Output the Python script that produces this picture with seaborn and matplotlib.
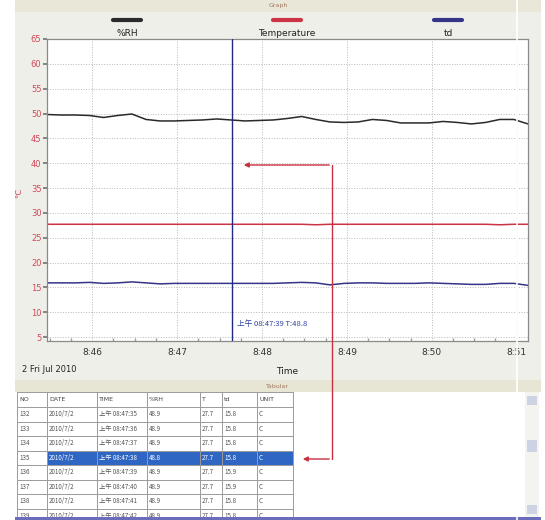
import numpy as np
import pandas as pd
import matplotlib
matplotlib.use("Agg")
import matplotlib.pyplot as plt
import seaborn as sns
from matplotlib.patches import Rectangle, FancyArrowPatch
from matplotlib.lines import Line2D

# ---------------- data ----------------
series_names = ["%RH", "Temperature", "td"]
series_colors = ["#2a2a2a", "#cc3345", "#343488"]

times = pd.date_range("2010-07-02 08:45:28", "2010-07-02 08:51:08", freq="10s")

rh_values = [49.8, 49.7, 49.7, 49.6, 49.2, 49.6, 49.9, 48.8, 48.5, 48.5,
             48.6, 48.7, 48.9, 48.7, 48.5, 48.6, 48.7, 49.0, 49.4, 48.8,
             48.3, 48.2, 48.3, 48.8, 48.6, 48.1, 48.1, 48.1, 48.4, 48.2,
             47.9, 48.2, 48.8, 48.8, 47.9]
temp_values = [27.7, 27.7, 27.7, 27.7, 27.7, 27.7, 27.7, 27.7, 27.7, 27.7,
               27.7, 27.7, 27.7, 27.7, 27.7, 27.7, 27.7, 27.7, 27.7, 27.6,
               27.7, 27.7, 27.7, 27.7, 27.7, 27.7, 27.7, 27.7, 27.7, 27.7,
               27.7, 27.7, 27.6, 27.7, 27.7]
td_values = [15.9, 15.9, 15.9, 16.0, 15.8, 15.9, 16.1, 15.9, 15.7, 15.8,
             15.8, 15.8, 15.8, 15.8, 15.8, 15.8, 15.8, 15.9, 16.0, 15.9,
             15.5, 15.8, 15.9, 15.9, 15.8, 15.8, 15.8, 15.9, 15.8, 15.7,
             15.6, 15.6, 15.8, 15.8, 15.4]

cursor_time = "08:47:39"
cursor_label = "上午 08:47:39 T:48.8"
date_label = "2 Fri Jul 2010"

y_ticks = [5, 10, 15, 20, 25, 30, 35, 40, 45, 50, 55, 60, 65]
x_tick_labels = ["8:46", "8:47", "8:48", "8:49", "8:50", "8:51"]

table_columns = ["NO", "DATE", "TIME", "%RH", "T", "td", "UNIT"]
table_no = ["132", "133", "134", "135", "136", "137", "138", "139"]
table_date = ["2010/7/2"] * 8
table_time = ["上午 08:47:35", "上午 08:47:36", "上午 08:47:37", "上午 08:47:38",
              "上午 08:47:39", "上午 08:47:40", "上午 08:47:41", "上午 08:47:42"]
table_rh = ["48.9", "48.9", "48.9", "48.8", "48.9", "48.9", "48.9", "48.9"]
table_t = ["27.7"] * 8
table_td = ["15.8", "15.8", "15.8", "15.8", "15.9", "15.9", "15.8", "15.8"]
table_unit = ["C"] * 8
selected_row = 3

# ---------------- helpers ----------------
W, H = 545, 520
def fx(x): return x / W
def fy(y): return 1 - y / H

def to_min(t):
    t = pd.Timestamp(t)
    return (t.hour - 8) * 60 + t.minute + t.second / 60.0

sns.set_theme(style="white")
plt.rcParams["font.family"] = ["DejaVu Sans", "Noto Sans CJK SC"]
cjk = ["Noto Sans CJK SC", "DejaVu Sans"]

fig = plt.figure(figsize=(W / 100, H / 100), dpi=100)
fig.patch.set_facecolor("white")

def frect(x0, y0, x1, y1, color, z=0, **kw):
    fig.add_artist(Rectangle((fx(x0), fy(y1)), fx(x1) - fx(x0), fy(y0) - fy(y1),
                             transform=fig.transFigure, facecolor=color,
                             edgecolor=kw.get("ec", "none"), lw=kw.get("lw", 0), zorder=z))

# panel backgrounds
frect(15, 0, 541, 392, "#efefe9")
frect(15, 0, 541, 12, "#e9e8d8")
frect(15, 380, 541, 392, "#e7e6d4")
fig.text(fx(278), fy(6), "Graph", fontsize=4.5, color="#a07860", ha="center", va="center")
fig.text(fx(277), fy(386), "Tabular", fontsize=4.5, color="#a07860", ha="center", va="center")

# ---------------- chart ----------------
x_min = [to_min(t) for t in times]
df = pd.DataFrame({
    "minute": x_min * 3,
    "value": rh_values + temp_values + td_values,
    "series": [series_names[0]] * len(times) + [series_names[1]] * len(times) + [series_names[2]] * len(times),
})

ax = fig.add_axes([fx(47), fy(341), fx(528) - fx(47), fy(39) - fy(341)])
ax.set_facecolor("white")
sns.lineplot(data=df, x="minute", y="value", hue="series", hue_order=series_names,
             palette=series_colors, legend=False, ax=ax, lw=1.1)

ax.set_xlim(to_min("08:45:28"), to_min("08:51:08"))
ax.set_ylim(4.2, 65)
ax.set_yticks(y_ticks)
ax.set_yticklabels([str(v) for v in y_ticks], color="#d04858", fontsize=6)
major_x = [46, 47, 48, 49, 50, 51]
ax.set_xticks(major_x)
ax.set_xticklabels(x_tick_labels, fontsize=6.5, color="#333333")
ax.set_xticks(np.arange(45.5, 51.1, 0.25), minor=True)
ax.tick_params(axis="x", which="major", direction="in", length=4, color="#777777", pad=5)
ax.tick_params(axis="x", which="minor", direction="in", length=2, color="#999999", bottom=True)
ax.tick_params(axis="y", which="major", direction="out", length=3, color="#777777", pad=1, left=True)
ax.grid(True, which="major", linestyle=":", color="#b8b8b8", lw=0.7)
ax.set_xlabel("")
ax.set_ylabel("")
for s in ax.spines.values():
    s.set_color("#8a8a8a")
    s.set_linewidth(0.9)

cx = to_min(cursor_time)
ax.axvline(cx, color="#1e2a85", lw=1.0, zorder=5)
ax.text(cx + 0.05, 7.7, cursor_label, color="#3040a8", fontsize=5.5, family=cjk, va="center")

fig.text(fx(22), fy(370), date_label, fontsize=6, color="#222222", va="center")
fig.text(fx(287), fy(371), "Time", fontsize=6.5, color="#222222", ha="center", va="center")
fig.text(fx(19), fy(193), "℃", fontsize=6, color="#d04858", rotation=90, ha="center", va="center")

# legend (top)
for name, col, xc in zip(series_names, series_colors, [127, 287, 448]):
    fig.add_artist(Line2D([fx(xc - 14), fx(xc + 14)], [fy(20), fy(20)], transform=fig.transFigure,
                          color=col, lw=3))
    fig.text(fx(xc), fy(33), name, fontsize=6.5, color="#222222", ha="center", va="center")

# ---------------- table ----------------
at = fig.add_axes([fx(15), fy(520), fx(525) - fx(15), fy(392) - fy(520)])
at.set_xlim(15, 525)
at.set_ylim(520, 392)
at.axis("off")
at.add_patch(Rectangle((15, 392), 510, 128, facecolor="white", edgecolor="none"))

col_edges = [17, 47, 97, 147, 200, 222, 257, 293]
row_h = 14.5
header_top, header_bot = 392, 407
rows = list(zip(table_no, table_date, table_time, table_rh, table_t, table_td, table_unit))

at.add_patch(Rectangle((col_edges[1], header_bot + selected_row * row_h),
                       col_edges[-1] - col_edges[1], row_h, facecolor="#2f66c3", edgecolor="none", zorder=1))

line_kw = dict(color="#9a9a9a", lw=0.7, zorder=2)
at.plot([col_edges[0], col_edges[-1]], [header_top, header_top], **line_kw)
at.plot([col_edges[0], col_edges[-1]], [header_bot, header_bot], **line_kw)
for i in range(len(rows)):
    yb = header_bot + (i + 1) * row_h
    if yb < 518:
        at.plot([col_edges[0], col_edges[-1]], [yb, yb], **line_kw)
for xe in col_edges:
    at.plot([xe, xe], [header_top, 518], **line_kw)

for j, name in enumerate(table_columns):
    at.text(col_edges[j] + 2, (header_top + header_bot) / 2, name, fontsize=4.5,
            color="#444444", va="center", zorder=3)
for i, row in enumerate(rows):
    yc = header_bot + (i + 0.5) * row_h
    for j, val in enumerate(row):
        col = "white" if (i == selected_row and j > 0) else "#555555"
        at.text(col_edges[j] + 2, yc, val, fontsize=4.5, color=col, va="center",
                family=cjk, zorder=3, clip_on=True)

# scrollbar and bottom bar
frect(525, 392, 539, 518, "#f3f3ef")
frect(527, 396, 537, 405, "#cdd3e2")
frect(527, 440, 537, 452, "#cdd3e2")
frect(527, 505, 537, 514, "#cdd3e2")
frect(15, 517, 541, 520, "#6c6cbc", z=5)

# red annotation connector
red = "#c8303f"
fig.add_artist(Line2D([fx(332), fx(332)], [fy(165), fy(459)], transform=fig.transFigure, color=red, lw=1.0, zorder=10))
fig.add_artist(FancyArrowPatch((fx(332), fy(165)), (fx(241), fy(165)), transform=fig.transFigure,
                               arrowstyle="-|>", mutation_scale=7, color=red, lw=1.0, zorder=10))
fig.add_artist(FancyArrowPatch((fx(332), fy(459)), (fx(300), fy(459)), transform=fig.transFigure,
                               arrowstyle="-|>", mutation_scale=7, color=red, lw=1.0, zorder=10))

# white stripe artifact
fig.add_artist(Line2D([fx(517), fx(517)], [0, 1], transform=fig.transFigure, color="white", lw=1.2, zorder=11))

fig.savefig("out.png", dpi=100)
